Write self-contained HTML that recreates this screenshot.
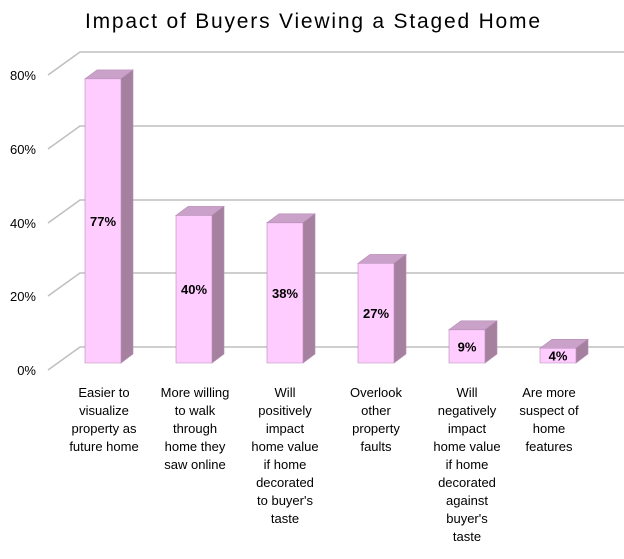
<!DOCTYPE html>
<html><head><style>
body{margin:0;background:#fff;}
svg text{font-family:"Liberation Sans",sans-serif;}
</style></head><body>
<svg width="624" height="554" xmlns="http://www.w3.org/2000/svg">
<text x="85" y="28" font-size="21" textLength="455" lengthAdjust="spacing" fill="#000">Impact of Buyers Viewing a Staged Home</text>
<g stroke="#bfbfbf" stroke-width="1.5" fill="none">
<polyline points="48,75 80,52 624,52"/>
<polyline points="48,149 80,126 624,126"/>
<polyline points="48,223 80,200 624,200"/>
<polyline points="48,296 80,273 624,273"/>
<polyline points="48,370 80,347 624,347"/>
</g>
<g font-size="13" fill="#000" text-anchor="end">
<text x="36" y="80">80%</text><text x="36" y="154">60%</text><text x="36" y="228">40%</text><text x="36" y="301">20%</text><text x="36" y="375">0%</text>
</g>
<g id="bars"></g>
<script>
var vals=[77,40,38,27,9,4],g=document.getElementById('bars'),ns='http://www.w3.org/2000/svg';
vals.forEach(function(v,i){
 var x=85+i*91,w=36,b=363,t=b-v*3.69,dx=12,dy=9;
 function p(pts,f){var e=document.createElementNS(ns,'polygon');e.setAttribute('points',pts);e.setAttribute('fill',f);e.setAttribute('stroke','#b48cb4');e.setAttribute('stroke-width','0.6');g.appendChild(e);}
 p(x+','+t+' '+(x+dx)+','+(t-dy)+' '+(x+w+dx)+','+(t-dy)+' '+(x+w)+','+t,'#c9a1c9');
 p((x+w)+','+t+' '+(x+w+dx)+','+(t-dy)+' '+(x+w+dx)+','+(b-dy)+' '+(x+w)+','+b,'#a6809f');
 p(x+','+t+' '+(x+w)+','+t+' '+(x+w)+','+b+' '+x+','+b,'#ffccff');
 var tx=document.createElementNS(ns,'text');tx.setAttribute('x',x+w/2);tx.setAttribute('y',(t+b)/2+5);tx.setAttribute('text-anchor','middle');tx.setAttribute('font-size','13');tx.setAttribute('font-weight','bold');tx.textContent=v+'%';g.appendChild(tx);
});
</script>
<g font-size="13" fill="#000" text-anchor="middle">
<text x="104" y="397">Easier to</text><text x="104" y="415">visualize</text><text x="104" y="433">property as</text><text x="104" y="451">future home</text>
<text x="195" y="397">More willing</text><text x="195" y="415">to walk</text><text x="195" y="433">through</text><text x="195" y="451">home they</text><text x="195" y="469">saw online</text>
<text x="285" y="397">Will</text><text x="285" y="415">positively</text><text x="285" y="433">impact</text><text x="285" y="451">home value</text><text x="285" y="469">if home</text><text x="285" y="487">decorated</text><text x="285" y="505">to buyer's</text><text x="285" y="523">taste</text>
<text x="376" y="397">Overlook</text><text x="376" y="415">other</text><text x="376" y="433">property</text><text x="376" y="451">faults</text>
<text x="467" y="397">Will</text><text x="467" y="415">negatively</text><text x="467" y="433">impact</text><text x="467" y="451">home value</text><text x="467" y="469">if home</text><text x="467" y="487">decorated</text><text x="467" y="505">against</text><text x="467" y="523">buyer's</text><text x="467" y="541">taste</text>
<text x="549" y="397">Are more</text><text x="549" y="415">suspect of</text><text x="549" y="433">home</text><text x="549" y="451">features</text>
</g>
</svg>
</body></html>
